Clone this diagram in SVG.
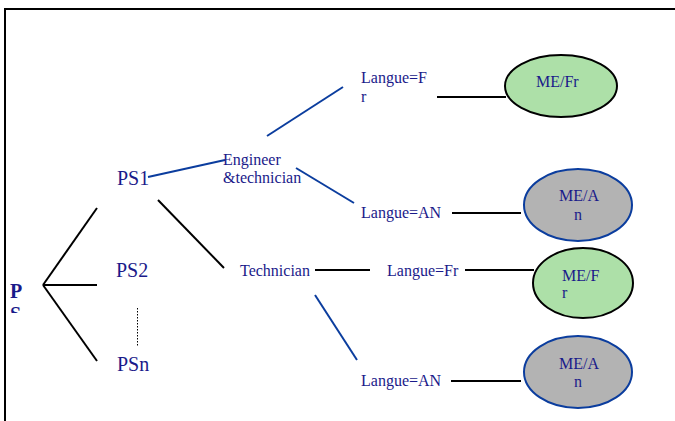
<svg xmlns="http://www.w3.org/2000/svg" width="675" height="421" viewBox="0 0 675 421" font-family="Liberation Serif, Times New Roman, serif">
<style>
text{fill:#1a1a8a}
.big{font-size:20px}
.sm{font-size:16px}
.k{stroke:#000;stroke-width:2;fill:none}
.b{stroke:#0b3d9e;stroke-width:2;fill:none}
.g{fill:#ade0a8;stroke:#000;stroke-width:2}
.y{fill:#b3b3b3;stroke:#0b3d9e;stroke-width:2}
</style>
<defs><clipPath id="cp"><rect x="0" y="0" width="40" height="313"/></clipPath></defs>
<rect width="675" height="421" fill="#fff"/>
<path d="M5,421 V9 H680" fill="none" stroke="#000" stroke-width="2"/>
<g id="connectors">
<line class="k" x1="43" y1="285" x2="97" y2="208"/>
<line class="k" x1="43" y1="285" x2="97" y2="285"/>
<line class="k" x1="43" y1="285" x2="97" y2="361"/>
<line x1="137.5" y1="308" x2="137.5" y2="346" stroke="#000" stroke-width="1" stroke-dasharray="1.5,1.5"/>
<line class="b" x1="148" y1="177" x2="225" y2="160"/>
<line class="k" x1="158" y1="200" x2="224" y2="268"/>
<line class="b" x1="267" y1="136" x2="343" y2="87"/>
<line class="b" x1="296" y1="168" x2="354" y2="203"/>
<line class="k" x1="437" y1="97" x2="506" y2="97"/>
<line class="k" x1="452" y1="213" x2="521" y2="213"/>
<line class="k" x1="315" y1="270" x2="370" y2="270"/>
<line class="k" x1="465" y1="270" x2="534" y2="270"/>
<line class="b" x1="315" y1="295" x2="357" y2="360"/>
<line class="k" x1="451" y1="381" x2="521" y2="381"/>
</g>
<g id="PS" clip-path="url(#cp)"><text x="10" y="298" class="big" font-weight="bold">P</text><text x="10" y="321" class="big" font-weight="bold">S</text></g>
<g id="PS1"><text x="117" y="185" class="big">PS1</text></g>
<g id="PS2"><text x="116" y="277" class="big">PS2</text></g>
<g id="PSn"><text x="117" y="371" class="big">PSn</text></g>
<g id="engineer"><text x="223" y="165" class="sm">Engineer</text><text x="223" y="183" class="sm">&amp;technician</text></g>
<g id="technician"><text x="240" y="276" class="sm">Technician</text></g>
<g id="langFr1"><text x="361" y="83" class="sm">Langue=F</text><text x="361" y="102" class="sm">r</text></g>
<g id="langAN1"><text x="361" y="218" class="sm">Langue=AN</text></g>
<g id="langFr2"><text x="387" y="276" class="sm">Langue=Fr</text></g>
<g id="langAN2"><text x="361" y="386" class="sm">Langue=AN</text></g>
<g id="meFr1"><ellipse class="g" cx="561" cy="86" rx="56" ry="31"/><text x="536" y="87" class="sm">ME/Fr</text></g>
<g id="meAn1"><ellipse class="y" cx="578" cy="205" rx="54" ry="36"/><text x="559" y="201" class="sm">ME/A</text><text x="574" y="220" class="sm">n</text></g>
<g id="meFr2"><ellipse class="g" cx="583" cy="283" rx="50" ry="35"/><text x="562" y="281" class="sm">ME/F</text><text x="562" y="298" class="sm">r</text></g>
<g id="meAn2"><ellipse class="y" cx="578" cy="372" rx="54" ry="36"/><text x="559" y="369" class="sm">ME/A</text><text x="574" y="387" class="sm">n</text></g>
</svg>
